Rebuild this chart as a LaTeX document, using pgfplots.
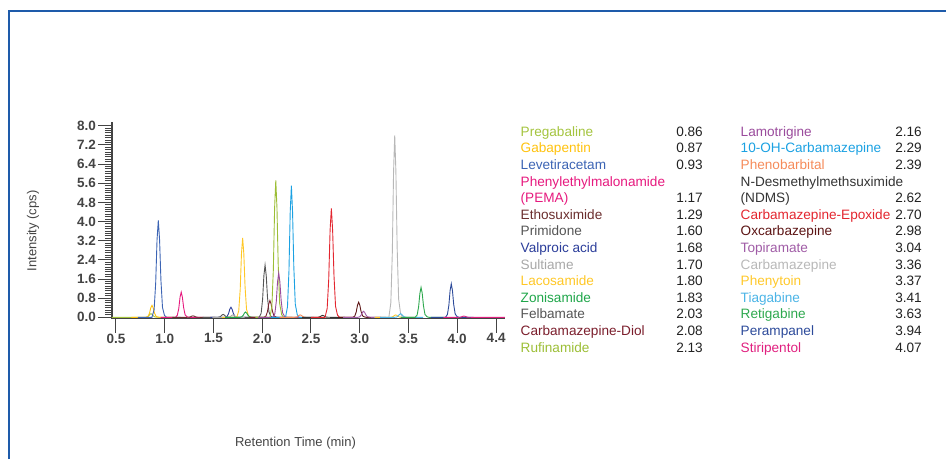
\documentclass[border=0pt]{standalone}
\usepackage{fontspec}
\setmainfont{Liberation Sans}
\usepackage{pgfplots}
\pgfplotsset{compat=1.18}
\usetikzlibrary{calc}
\definecolor{frameblue}{HTML}{1E5BAA}
\definecolor{axisgray}{HTML}{444444}
\definecolor{numc}{HTML}{222222}
\definecolor{pregab}{HTML}{A4C43E}
\definecolor{gaba}{HTML}{FFC20E}
\definecolor{leve}{HTML}{3C64B4}
\definecolor{pema}{HTML}{E6197E}
\definecolor{etho}{HTML}{6B2E2E}
\definecolor{primid}{HTML}{555555}
\definecolor{valpro}{HTML}{2B3D9A}
\definecolor{sult}{HTML}{A8A8A8}
\definecolor{laco}{HTML}{FFC726}
\definecolor{zoni}{HTML}{1FA64A}
\definecolor{felb}{HTML}{555555}
\definecolor{cbzdiol}{HTML}{7B1E2C}
\definecolor{rufin}{HTML}{9CBE36}
\definecolor{lamo}{HTML}{9A4B9C}
\definecolor{ohcbz}{HTML}{1BA1E2}
\definecolor{pheno}{HTML}{F58B5A}
\definecolor{ndms}{HTML}{333333}
\definecolor{cbzepo}{HTML}{E3262F}
\definecolor{oxc}{HTML}{5C1414}
\definecolor{topi}{HTML}{A05CA6}
\definecolor{cbz}{HTML}{B8B8B8}
\definecolor{pheny}{HTML}{FFC82A}
\definecolor{tiag}{HTML}{4BB4E6}
\definecolor{retig}{HTML}{2EA84E}
\definecolor{peramp}{HTML}{2C4A9A}
\definecolor{stiri}{HTML}{E0207F}
\newcommand\lname[4]{\node[anchor=base west,inner sep=0pt,text=#3,font=\fontsize{13.6}{16}\selectfont] at (#1,#2) {#4};}
\newcommand\ltime[3]{\node[anchor=base east,inner sep=0pt,text=numc,font=\fontsize{13.6}{16}\selectfont] at (#1,#2) {#3};}
\begin{document}
\begin{tikzpicture}[x=1pt,y=1pt]
\begin{axis}[
  scale only axis,
  width=392.9pt, height=196.8pt,
  xmin=0.46, xmax=4.49, ymin=-0.05, ymax=8.17,
  axis x line*=bottom, axis y line*=left,
  axis line style={-, draw=axisgray, line width=1.3pt},
  xtick={0.5,1,1.5,2,2.5,3,3.5,4,4.4},
  ytick={0,0.8,1.6,2.4,3.2,4.0,4.8,5.6,6.4,7.2,8.0},
  minor y tick num=7,
  tick align=outside, major tick length=14pt, minor tick length=7pt,
  every tick/.style={draw=axisgray, line width=1pt},
  /pgf/number format/assume math mode=true,
  /pgf/number format/fixed, /pgf/number format/fixed zerofill, /pgf/number format/precision=1,
  ticklabel style={font=\fontsize{13.5}{15}\selectfont\bfseries, text=axisgray},
  yticklabel style={inner sep=1pt, xshift=-1pt},
  xticklabel style={inner sep=1pt, yshift=0pt},
  xlabel={Retention Time (min)},
  xlabel style={at={(axis description cs:0.467,-0.633)}, anchor=center, font=\fontsize{13}{15}\selectfont, text=axisgray},
  ylabel={Intensity (cps)},
  ylabel style={at={(axis description cs:-0.201,0.445)}, anchor=center, font=\fontsize{13}{15}\selectfont, text=axisgray},
  every axis plot/.append style={line width=0.9pt, mark=none},
]
\addplot[pregab] coordinates {(0.46,0) (0.80,0) (0.82,0.012) (0.835,0.053) (0.848,0.12) (0.86,0.15) (0.872,0.12) (0.885,0.057) (0.90,0.015) (0.92,0.003) (0.94,0) (1.09,0)};
\addplot[gaba] coordinates {(0.66,0) (0.81,0) (0.83,0.04) (0.845,0.175) (0.858,0.4) (0.87,0.5) (0.882,0.4) (0.895,0.19) (0.91,0.05) (0.93,0.01) (0.95,0) (1.10,0)};
\addplot[leve] coordinates {(0.725,0) (0.87,0) (0.892,0.32) (0.908,1.42) (0.922,3.24) (0.935,4.05) (0.948,3.24) (0.962,1.54) (0.978,0.41) (0.998,0.08) (1.02,0) (1.165,0)};
\addplot[pema] coordinates {(0.96,0) (1.11,0) (1.13,0.084) (1.145,0.37) (1.158,0.84) (1.17,1.05) (1.182,0.84) (1.195,0.4) (1.21,0.105) (1.23,0.021) (1.25,0) (1.40,0)};
\addplot[etho] coordinates {(1.08,0) (1.23,0) (1.25,0.005) (1.265,0.021) (1.278,0.048) (1.29,0.06) (1.302,0.048) (1.315,0.023) (1.33,0.006) (1.35,0.001) (1.37,0) (1.52,0)};
\addplot[primid] coordinates {(1.39,0) (1.54,0) (1.56,0.01) (1.575,0.042) (1.588,0.096) (1.60,0.12) (1.612,0.096) (1.625,0.046) (1.64,0.012) (1.66,0.002) (1.68,0) (1.83,0)};
\addplot[valpro] coordinates {(1.47,0) (1.62,0) (1.64,0.034) (1.655,0.147) (1.668,0.336) (1.68,0.42) (1.692,0.336) (1.705,0.16) (1.72,0.042) (1.74,0.008) (1.76,0) (1.91,0)};
\addplot[sult] coordinates {(1.49,0) (1.64,0) (1.66,0.008) (1.675,0.035) (1.688,0.08) (1.70,0.1) (1.712,0.08) (1.725,0.038) (1.74,0.01) (1.76,0.002) (1.78,0) (1.93,0)};
\addplot[laco] coordinates {(1.59,0) (1.74,0) (1.76,0.27) (1.775,1.16) (1.788,2.66) (1.80,3.32) (1.812,2.66) (1.825,1.26) (1.84,0.33) (1.86,0.066) (1.88,0) (2.03,0)};
\addplot[zoni] coordinates {(1.62,0) (1.77,0) (1.79,0.018) (1.805,0.077) (1.818,0.176) (1.83,0.22) (1.842,0.176) (1.855,0.084) (1.87,0.022) (1.89,0.004) (1.91,0) (2.06,0)};
\addplot[felb] coordinates {(1.82,0) (1.97,0) (1.99,0.174) (2.005,0.763) (2.018,1.744) (2.03,2.18) (2.042,1.744) (2.055,0.828) (2.07,0.218) (2.09,0.044) (2.11,0) (2.26,0)};
\addplot[cbzdiol] coordinates {(1.87,0) (2.02,0) (2.04,0.056) (2.055,0.245) (2.068,0.56) (2.08,0.7) (2.092,0.56) (2.105,0.266) (2.12,0.07) (2.14,0.014) (2.16,0) (2.31,0)};
\addplot[rufin] coordinates {(1.93,0) (2.08,0) (2.10,0.458) (2.115,2.0) (2.128,4.58) (2.14,5.72) (2.152,4.58) (2.165,2.17) (2.18,0.572) (2.20,0.114) (2.22,0) (2.37,0)};
\addplot[lamo] coordinates {(1.96,0) (2.11,0) (2.13,0.148) (2.145,0.648) (2.158,1.48) (2.17,1.85) (2.182,1.48) (2.195,0.703) (2.21,0.185) (2.23,0.037) (2.25,0) (2.40,0)};
\addplot[ohcbz] coordinates {(2.09,0) (2.24,0) (2.26,0.44) (2.275,1.925) (2.288,4.4) (2.30,5.5) (2.312,4.4) (2.325,2.09) (2.34,0.55) (2.36,0.11) (2.38,0) (2.53,0)};
\addplot[pheno] coordinates {(2.18,0) (2.33,0) (2.35,0.008) (2.365,0.035) (2.378,0.08) (2.39,0.1) (2.402,0.08) (2.415,0.038) (2.43,0.01) (2.45,0.002) (2.47,0) (2.62,0)};
\addplot[ndms] coordinates {(2.41,0) (2.56,0) (2.58,0.006) (2.595,0.028) (2.608,0.064) (2.62,0.08) (2.632,0.064) (2.645,0.03) (2.66,0.008) (2.68,0.002) (2.70,0) (2.85,0)};
\addplot[cbzepo] coordinates {(2.50,0) (2.645,0) (2.667,0.364) (2.683,1.59) (2.697,3.64) (2.71,4.55) (2.723,3.64) (2.737,1.73) (2.753,0.455) (2.773,0.091) (2.795,0) (2.94,0)};
\addplot[oxc] coordinates {(2.78,0) (2.93,0) (2.95,0.05) (2.965,0.22) (2.978,0.504) (2.99,0.63) (3.002,0.504) (3.015,0.239) (3.03,0.063) (3.05,0.013) (3.07,0) (3.22,0)};
\addplot[topi] coordinates {(2.83,0) (2.98,0) (3.00,0.02) (3.015,0.088) (3.028,0.2) (3.04,0.25) (3.052,0.2) (3.065,0.095) (3.08,0.025) (3.10,0.005) (3.12,0) (3.27,0)};
\addplot[cbz] coordinates {(3.15,0) (3.30,0) (3.32,0.608) (3.335,2.66) (3.348,6.08) (3.36,7.6) (3.372,6.08) (3.385,2.89) (3.40,0.76) (3.42,0.152) (3.44,0) (3.59,0)};
\addplot[pheny] coordinates {(3.16,0) (3.31,0) (3.33,0.008) (3.345,0.035) (3.358,0.08) (3.37,0.1) (3.382,0.08) (3.395,0.038) (3.41,0.01) (3.43,0.002) (3.45,0) (3.60,0)};
\addplot[tiag] coordinates {(3.21,0) (3.36,0) (3.38,0.012) (3.395,0.053) (3.408,0.12) (3.42,0.15) (3.432,0.12) (3.445,0.057) (3.46,0.015) (3.48,0.003) (3.50,0) (3.65,0)};
\addplot[retig] coordinates {(3.42,0) (3.57,0) (3.59,0.1) (3.605,0.438) (3.618,1.0) (3.63,1.25) (3.642,1.0) (3.655,0.475) (3.67,0.125) (3.69,0.025) (3.71,0) (3.86,0)};
\addplot[peramp] coordinates {(3.73,0) (3.88,0) (3.90,0.112) (3.915,0.49) (3.928,1.12) (3.94,1.4) (3.952,1.12) (3.965,0.532) (3.98,0.14) (4.00,0.028) (4.02,0) (4.17,0)};
\addplot[stiri] coordinates {(3.86,0) (4.01,0) (4.03,0.004) (4.045,0.018) (4.058,0.04) (4.07,0.05) (4.082,0.04) (4.095,0.019) (4.11,0.005) (4.13,0.001) (4.15,0) (4.49,0)};
\coordinate (ll) at (rel axis cs:0,0);
\end{axis}
\pgfresetboundingbox
\begin{scope}[shift={($(ll)-(112,140.5)$)}]
\path[use as bounding box] (0,0) rectangle (946,459);
\draw[frameblue, line width=2.5pt] (9,0) -- (9,448) -- (946,448);
% retention-time table
\lname{520.5}{322.7}{pregab}{Pregabaline}\ltime{703}{322.7}{0.86}
\lname{520.5}{306.1}{gaba}{Gabapentin}\ltime{703}{306.1}{0.87}
\lname{520.5}{289.5}{leve}{Levetiracetam}\ltime{703}{289.5}{0.93}
\lname{520.5}{272.9}{pema}{Phenylethylmalonamide}
\lname{520.5}{256.3}{pema}{(PEMA)}\ltime{703}{256.3}{1.17}
\lname{520.5}{239.7}{etho}{Ethosuximide}\ltime{703}{239.7}{1.29}
\lname{520.5}{223.1}{primid}{Primidone}\ltime{703}{223.1}{1.60}
\lname{520.5}{206.5}{valpro}{Valproic acid}\ltime{703}{206.5}{1.68}
\lname{520.5}{189.9}{sult}{Sultiame}\ltime{703}{189.9}{1.70}
\lname{520.5}{173.3}{laco}{Lacosamide}\ltime{703}{173.3}{1.80}
\lname{520.5}{156.7}{zoni}{Zonisamide}\ltime{703}{156.7}{1.83}
\lname{520.5}{140.1}{felb}{Felbamate}\ltime{703}{140.1}{2.03}
\lname{520.5}{123.5}{cbzdiol}{Carbamazepine-Diol}\ltime{703}{123.5}{2.08}
\lname{520.5}{106.9}{rufin}{Rufinamide}\ltime{703}{106.9}{2.13}
\lname{740.5}{322.7}{lamo}{Lamotrigine}\ltime{922}{322.7}{2.16}
\lname{740.5}{306.1}{ohcbz}{10-OH-Carbamazepine}\ltime{922}{306.1}{2.29}
\lname{740.5}{289.5}{pheno}{Phenobarbital}\ltime{922}{289.5}{2.39}
\lname{740.5}{272.9}{ndms}{N-Desmethylmethsuximide}
\lname{740.5}{256.3}{ndms}{(NDMS)}\ltime{922}{256.3}{2.62}
\lname{740.5}{239.7}{cbzepo}{Carbamazepine-Epoxide}\ltime{922}{239.7}{2.70}
\lname{740.5}{223.1}{oxc}{Oxcarbazepine}\ltime{922}{223.1}{2.98}
\lname{740.5}{206.5}{topi}{Topiramate}\ltime{922}{206.5}{3.04}
\lname{740.5}{189.9}{cbz}{Carbamazepine}\ltime{922}{189.9}{3.36}
\lname{740.5}{173.3}{pheny}{Phenytoin}\ltime{922}{173.3}{3.37}
\lname{740.5}{156.7}{tiag}{Tiagabine}\ltime{922}{156.7}{3.41}
\lname{740.5}{140.1}{retig}{Retigabine}\ltime{922}{140.1}{3.63}
\lname{740.5}{123.5}{peramp}{Perampanel}\ltime{922}{123.5}{3.94}
\lname{740.5}{106.9}{stiri}{Stiripentol}\ltime{922}{106.9}{4.07}
\end{scope}
\end{tikzpicture}
\end{document}
